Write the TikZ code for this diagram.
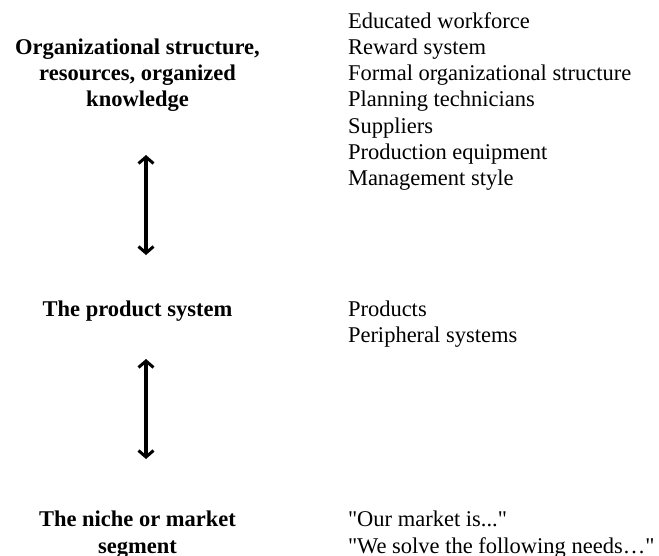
\documentclass[tikz,border=0pt]{standalone}
\usepackage{fontspec}
\setmainfont{Liberation Serif}[Ligatures=TeXOff]
\usetikzlibrary{arrows.meta}
\begin{document}
\begin{tikzpicture}[x=1pt,y=-1pt,
  every node/.style={inner sep=0pt,outer sep=0pt},
  level/.style={font=\fontsize{22.5}{26.3}\selectfont\bfseries,align=center,anchor=base},
  items/.style={font=\fontsize{22.5}{26.3}\selectfont,align=left,anchor=base west},
  barb/.tip={Straight Barb[length=6.5pt,width=15pt,line width=3pt]},
  biarrow/.style={line width=3.2pt,arrows={barb-barb}}]
  \useasboundingbox (0,0) rectangle (659,555);

  % left column: the three levels (anchored at the baseline of the last line)
  \node[level] (org) at (137.5,106.9) {Organizational structure,\\resources, organized\\knowledge};
  \node[level] (prod) at (137.5,316.5) {The product system};
  \node[level] (niche) at (137.5,553) {The niche or market\\segment};

  % right column: what each level consists of
  \node[items] (orgitems) at (348,185.8) {Educated workforce\\Reward system\\Formal organizational structure\\Planning technicians\\Suppliers\\Production equipment\\Management style};
  \node[items] (proditems) at (348,342.5) {Products\\Peripheral systems};
  \node[items] (nicheitems) at (348,553) {"Our market is..."\\"We solve the following needs…"};

  % two-way links between the levels
  \coordinate (a1) at (146,155);
  \coordinate (b1) at (146,255);
  \coordinate (a2) at (146,359);
  \coordinate (b2) at (146,459);
  \draw[biarrow] (a1) -- (b1);
  \draw[biarrow] (a2) -- (b2);
\end{tikzpicture}
\end{document}
